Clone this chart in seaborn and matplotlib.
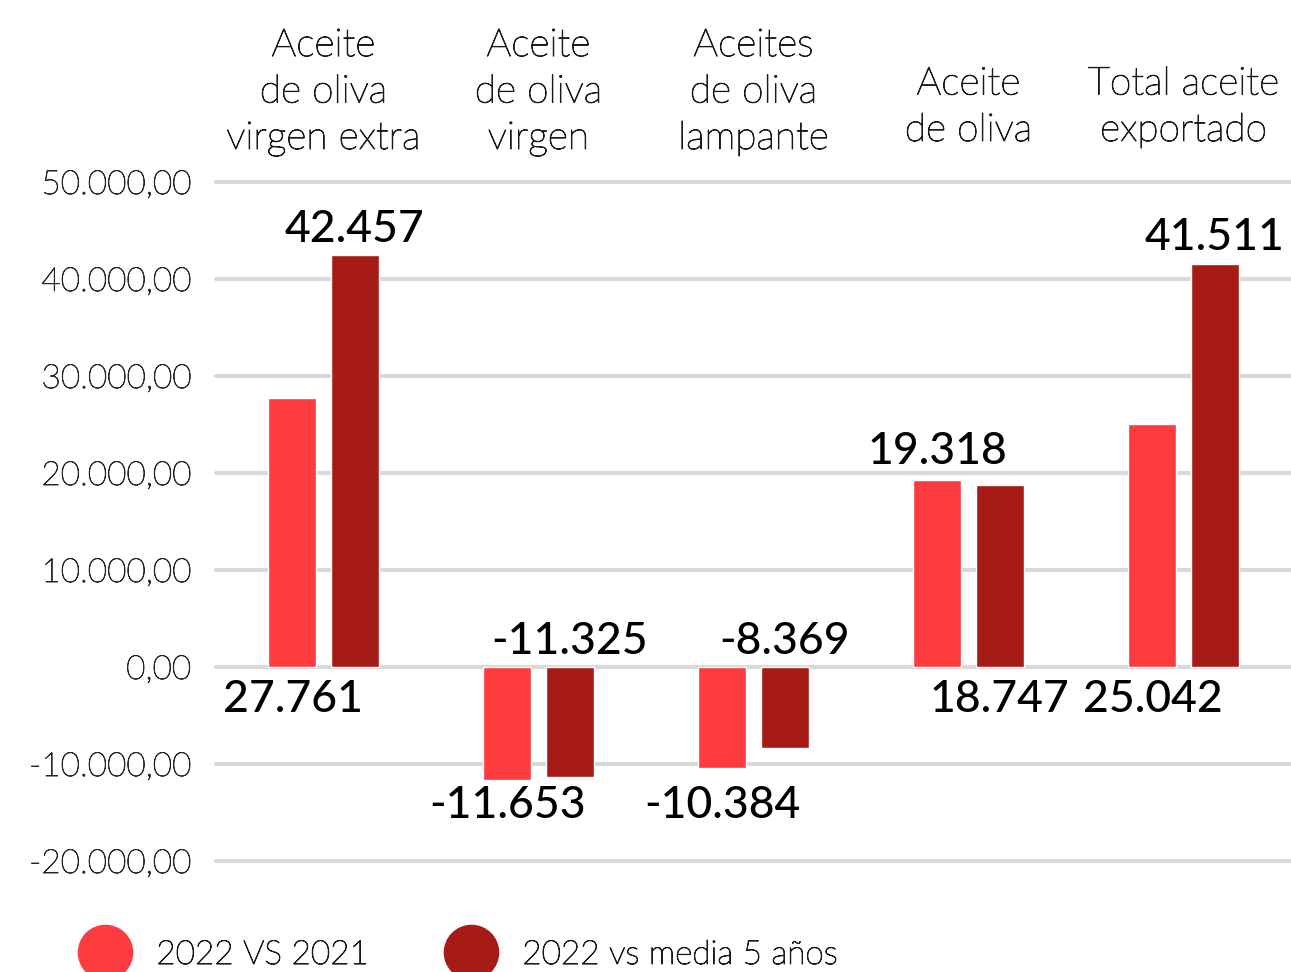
import matplotlib
matplotlib.use("Agg")
import matplotlib.pyplot as plt
import matplotlib.transforms as mtransforms
import matplotlib.patheffects as pe
from matplotlib.lines import Line2D
import seaborn as sns
import pandas as pd

categories = ["Aceite\nde oliva\nvirgen extra", "Aceite\nde oliva\nvirgen",
              "Aceites\nde oliva\nlampante", "Aceite\nde oliva", "Total aceite\nexportado"]
series_names = ["2022 VS 2021", "2022 vs media 5 años"]
vs_2021 = [27761, -11653, -10384, 19318, 25042]
vs_media = [42457, -11325, -8369, 18747, 41511]
label_texts_2021 = ["27.761", "-11.653", "-10.384", "19.318", "25.042"]
label_texts_media = ["42.457", "-11.325", "-8.369", "18.747", "41.511"]
yticks = [-20000, -10000, 0, 10000, 20000, 30000, 40000, 50000]
colors = ["#FC3C3E", "#A71B16"]

df = pd.DataFrame({
    "cat": categories * 2,
    "serie": [series_names[0]] * 5 + [series_names[1]] * 5,
    "valor": vs_2021 + vs_media,
})

sns.set_theme(style="white")
plt.rcParams['font.family'] = ['Lato', 'DejaVu Sans']

thin = [pe.withStroke(linewidth=0.7, foreground="#1a1a1a")]

fig = plt.figure(figsize=(12.91, 9.72), dpi=100)
ax = fig.add_axes([216/1291, 1-861/972, 1-216/1291, (861-182)/972])

sns.barplot(data=df, x="cat", y="valor", hue="serie", order=categories,
            hue_order=series_names, palette=colors, width=0.577, gap=0.226,
            ax=ax, legend=False, saturation=1, zorder=3)

ax.set_xlim(-0.5, 4.5)
ax.set_ylim(-20000, 50000)
ax.set_yticks(yticks)

def fmt(v):
    s = f"{abs(v):,.2f}".replace(",", "X").replace(".", ",").replace("X", ".")
    return ("-" if v < 0 else "") + s

ax.set_yticklabels([fmt(v) for v in yticks], fontsize=24, color="#262626", fontweight="light")
for t in ax.get_yticklabels():
    t.set_path_effects([pe.withStroke(linewidth=0.6, foreground="#262626")])
ax.tick_params(axis="y", length=0, pad=18)
ax.set_xticks([])
ax.set_xlabel("")
ax.set_ylabel("")
for s in ax.spines.values():
    s.set_visible(False)
ax.grid(False)
for v in yticks:
    ax.axhline(v, color="#D9D9D9", lw=3, zorder=1, clip_on=False)

# category titles above plot
trans = mtransforms.blended_transform_factory(ax.transData, fig.transFigure)
title_y = [1-156/972, 1-156/972, 1-156/972, 1-148/972, 1-148/972]
for i, c in enumerate(categories):
    ax.text(i, title_y[i], c, transform=trans, ha="center", va="bottom",
            fontsize=28, fontweight="light", color="#1a1a1a", linespacing=1.36,
            path_effects=thin)

# value labels
off = 0.144
pos_2021 = [-3400, -14300, -14300, vs_2021[3] + 2850, -3400]
pos_media = [vs_media[0] + 2600, 2680, 2680, -3400, vs_media[4] + 2800]
for i in range(5):
    ax.text(i - off, pos_2021[i], label_texts_2021[i], ha="center", va="center",
            fontsize=32, fontweight="medium", color="black", zorder=5)
    ax.text(i + off, pos_media[i], label_texts_media[i], ha="center", va="center",
            fontsize=32, fontweight="medium", color="black", zorder=5)

handles = [Line2D([], [], marker="o", linestyle="none", markersize=39,
                  markerfacecolor=colors[k], markeredgecolor=colors[k]) for k in range(2)]
leg = fig.legend(handles, series_names, loc="center left", bbox_to_anchor=(0.032, 1-955/972),
                 ncol=2, frameon=False, handletextpad=0.55, columnspacing=2.05,
                 prop={"family": ["Lato", "DejaVu Sans"], "weight": "light", "size": 24},
                 labelcolor="#1a1a1a")
for t in leg.get_texts():
    t.set_path_effects(thin)

fig.savefig("out.png", dpi=100)
